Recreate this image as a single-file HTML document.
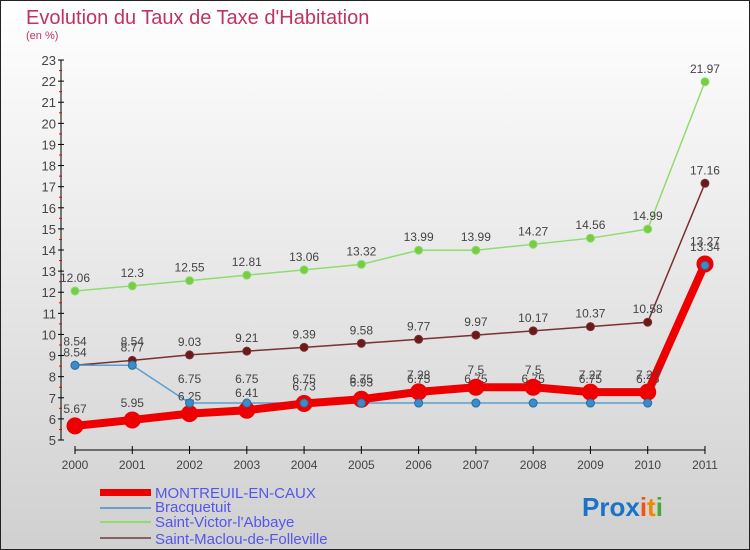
<!DOCTYPE html>
<html><head><meta charset="utf-8"><style>
body{margin:0;}
#c{width:750px;height:550px;position:relative;box-sizing:border-box;border:1px solid #222;background:linear-gradient(#ffffff,#d0d0d0);font-family:"Liberation Sans",sans-serif;overflow:hidden}
</style></head><body>
<div id="c">
<svg id="s" width="750" height="550" style="position:absolute;left:-1px;top:-1px">
<text x="26" y="24" font-size="20" fill="#c0335e">Evolution du Taux de Taxe d'Habitation</text>
<text x="26" y="39" font-size="11" fill="#c0335e">(en %)</text>
<g id="axes"></g><g id="series"></g>
<g>
<rect x="100" y="489" width="51" height="7" fill="#ee0000"/>
<line x1="100" y1="508" x2="151" y2="508" stroke="#6a9fcc" stroke-width="2"/>
<line x1="100" y1="522" x2="151" y2="522" stroke="#8fdc6f" stroke-width="2"/>
<line x1="100" y1="538" x2="151" y2="538" stroke="#8a6060" stroke-width="2"/>
<g font-size="15" fill="#5555ee">
<text x="155" y="498">MONTREUIL-EN-CAUX</text>
<text x="155" y="512">Bracquetuit</text>
<text x="155" y="527">Saint-Victor-l'Abbaye</text>
<text x="155" y="544">Saint-Maclou-de-Folleville</text>
</g></g>
<text x="582" y="516" font-size="26" font-weight="bold"><tspan fill="#1a73c8">Pro</tspan><tspan fill="#1a73c8">x</tspan><tspan fill="#ee5511">i</tspan><tspan fill="#ee8800">t</tspan><tspan fill="#44aa33">i</tspan></text>
</svg>
</div>
<script>
const years=[2000,2001,2002,2003,2004,2005,2006,2007,2008,2009,2010,2011];
const montreuil=[5.67,5.95,6.25,6.41,6.73,6.93,7.28,7.5,7.5,7.27,7.27,13.34];
const bracquetuit=[8.54,8.54,6.75,6.75,6.75,6.75,6.75,6.75,6.75,6.75,6.75,13.27];
const saintVictor=[12.06,12.3,12.55,12.81,13.06,13.32,13.99,13.99,14.27,14.56,14.99,21.97];
const saintMaclou=[8.54,8.77,9.03,9.21,9.39,9.58,9.77,9.97,10.17,10.37,10.58,17.16];
const yTicks=[5,6,7,8,9,10,11,12,13,14,15,16,17,18,19,20,21,22,23];
const NS="http://www.w3.org/2000/svg";
const X=i=>75+i*57.27, Y=v=>440-(v-5)*21.11;
function mk(t,a,p){const e=document.createElementNS(NS,t);for(const k in a)e.setAttribute(k,a[k]);p.appendChild(e);return e;}
const ax=document.getElementById('axes'),sg=document.getElementById('series');
const yl=mk('line',{x1:61,y1:Y(23),x2:61,y2:Y(5),stroke:'#000'},ax);


const xl=mk('line',{x1:X(0),y1:450,x2:X(11),y2:450,stroke:'#000'},ax);


yTicks.forEach(v=>{
 mk('line',{x1:58,y1:Y(v),x2:64,y2:Y(v),stroke:'#000'},ax);
 if(v<23)mk('line',{x1:59,y1:Y(v+0.5),x2:62,y2:Y(v+0.5),stroke:'#e00'},ax);
 const t=mk('text',{x:56,y:Y(v)+5,'font-size':13,fill:'#444','text-anchor':'end'},ax);t.textContent=v;
 
 
});
years.forEach((y,i)=>{
 mk('line',{x1:X(i),y1:446,x2:X(i),y2:454,stroke:'#000'},ax);
 const t=mk('text',{x:X(i),y:469,'font-size':12,fill:'#444','text-anchor':'middle'},ax);t.textContent=y;
 
 
});
function series(vals,name,col,w,r,fill,dy){
 const g=mk('g',{},sg);
 
 
 mk('polyline',{points:vals.map((v,i)=>X(i)+','+Y(v)).join(' '),fill:'none',stroke:col,'stroke-width':w,'stroke-linejoin':'round'},g);
 vals.forEach((v,i)=>{
  const c=mk('circle',{cx:X(i),cy:Y(v),r:r,fill:fill,stroke:col,'stroke-width':1},g);
  
  
  const t=mk('text',{x:X(i),y:Y(v)+dy,'font-size':12,fill:'#444','text-anchor':'middle'},g);t.textContent=v;
  
  
 });
}
series(saintVictor,'series-saint-victor','#8fdc6f',1.5,4,'#77cc44',-9);
series(saintMaclou,'series-saint-maclou','#7a3030',1.5,4,'#6a1a1a',-9);
series(bracquetuit,'series-bracquetuit','#5a9fd0',1.5,4,'#3a8ccc',-20);
series(montreuil,'series-montreuil','#ee0000',8,8,'#ee0000',-13);
// redraw blue points on top
bracquetuit.forEach((v,i)=>{const c=mk('circle',{cx:X(i),cy:Y(v),r:4,fill:'#3a8ccc',stroke:'#2a6fa0'},sg);
 
 });
</script>
</body></html>
